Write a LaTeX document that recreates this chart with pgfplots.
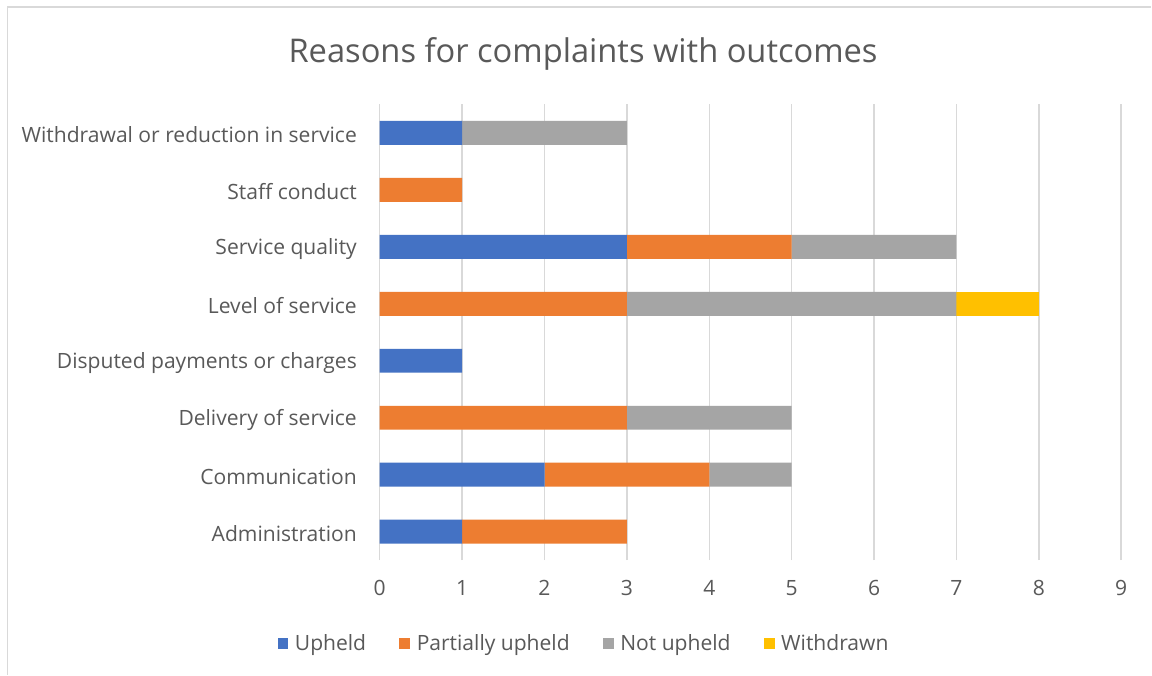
\documentclass[border=0pt]{standalone}
\usepackage{pgfplots}
\pgfplotsset{compat=1.18}
\usepackage{fontspec}
\setmainfont{Open Sans}
\definecolor{cUp}{HTML}{4472C4}
\definecolor{cPart}{HTML}{ED7D31}
\definecolor{cNot}{HTML}{A5A5A5}
\definecolor{cWd}{HTML}{FFC000}
\definecolor{gridc}{HTML}{D9D9D9}
\definecolor{textc}{HTML}{595959}
\begin{document}
\begin{tikzpicture}
\path[fill=white] (0pt,0pt) rectangle (864pt,506.25pt);
\draw[color=gridc, line width=1.2pt] (5.6pt,0pt) -- (5.6pt,501pt) -- (864pt,501pt);
\node[text=textc, font=\fontsize{24.5}{29}\selectfont] at (437.6pt,466pt) {Reasons for complaints with outcomes};
\begin{axis}[
  at={(285pt,85.875pt)}, anchor=south west,
  scale only axis, width=556.5pt, height=342pt,
  xbar stacked, bar width=0.42,
  xmin=0, xmax=9, ymin=-0.5, ymax=7.5,
  xtick={0,...,9}, ytick={0,...,7},
  yticklabels={Administration,Communication,Delivery of service,Disputed payments or charges,Level of service,Service quality,Staff conduct,Withdrawal or reduction in service},
  axis line style={draw=none},
  major tick length=0pt,
  xmajorgrids, major grid style={color=gridc, line width=1.1pt},
  /pgf/number format/assume math mode=true,
  tick label style={font=\fontsize{15.8}{19}\selectfont, text=textc},
  yticklabel style={inner sep=0pt, xshift=-17pt, yshift=-1.5pt},
  xticklabel style={inner sep=0pt, yshift=-15pt},
  legend columns=4,
  legend style={at={(0.276,-0.183)}, anchor=center, draw=none, fill=none,
    font=\fontsize{15.8}{19}\selectfont, text=textc,
    /tikz/every odd column/.append style={column sep=3pt},
    /tikz/every even column/.append style={column sep=23pt}},
  legend image code/.code={\fill[#1] (0pt,-4pt) rectangle (8pt,4pt);},
]
\addplot[fill=cUp, draw=none] coordinates {(1,0) (2,1) (0,2) (1,3) (0,4) (3,5) (0,6) (1,7)};
\addplot[fill=cPart, draw=none] coordinates {(2,0) (2,1) (3,2) (0,3) (3,4) (2,5) (1,6) (0,7)};
\addplot[fill=cNot, draw=none] coordinates {(0,0) (1,1) (2,2) (0,3) (4,4) (2,5) (0,6) (2,7)};
\addplot[fill=cWd, draw=none] coordinates {(0,0) (0,1) (0,2) (0,3) (1,4) (0,5) (0,6) (0,7)};
\legend{Upheld,Partially upheld,Not upheld,Withdrawn}
\end{axis}
\end{tikzpicture}
\end{document}
